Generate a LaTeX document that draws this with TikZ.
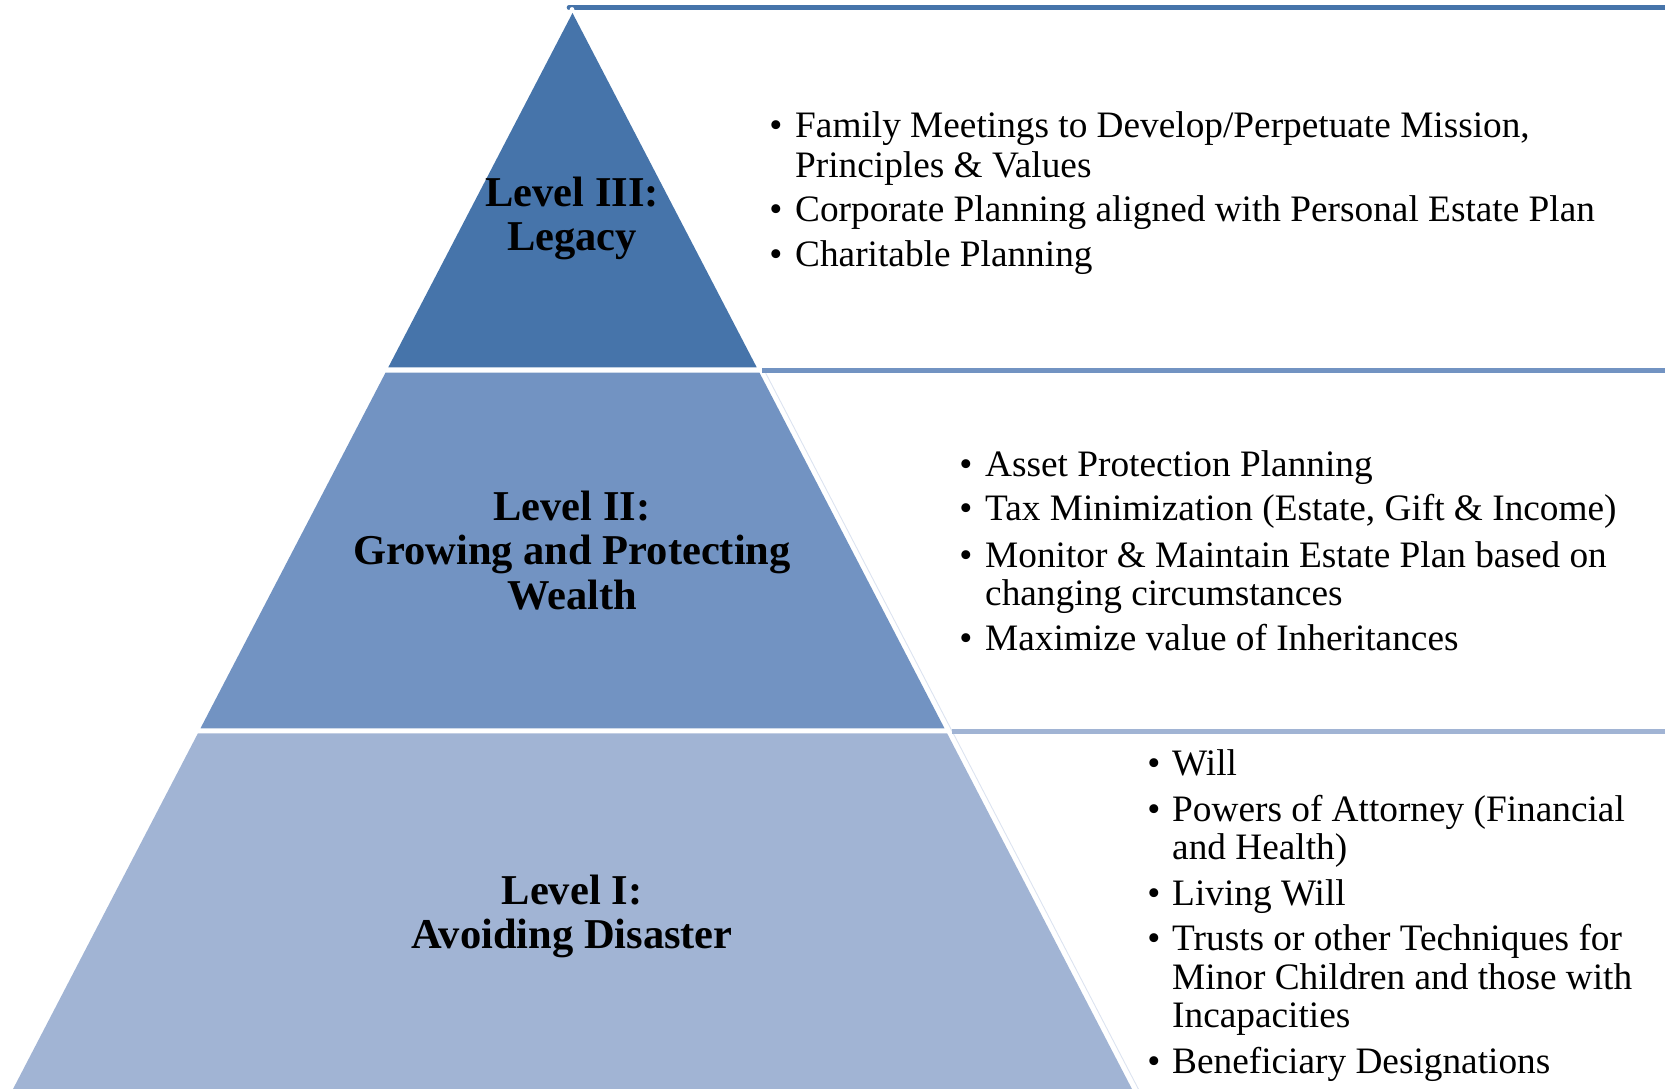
\documentclass[tikz,border=0pt]{standalone}
\usepackage{fontspec}
\setmainfont{Liberation Serif}
\definecolor{lthree}{RGB}{70,116,170}
\definecolor{ltwo}{RGB}{114,147,194}
\definecolor{lone}{RGB}{161,180,212}
\definecolor{edgefaint}{RGB}{220,227,240}
\begin{document}
\begin{tikzpicture}[x=1pt,y=-1pt,
  ttl/.style={font=\fontsize{42.5}{44}\selectfont\bfseries, anchor=base, inner sep=0pt},
  itm/.style={font=\fontsize{37.3}{38.5}\selectfont, anchor=base west, inner sep=0pt},
  bul/.style={font=\fontsize{37.3}{38.5}\selectfont, anchor=base, inner sep=0pt},
  band/.style={line width=5pt},
]
\useasboundingbox (0,0) rectangle (1665,1089);
% pyramid levels
\fill[lthree] (572.5,13) -- (756.7,367.3) -- (388.3,367.3) -- cycle;
\fill[ltwo] (385.5,372.7) -- (759.5,372.7) -- (944.5,728.3) -- (200.5,728.3) -- cycle;
\fill[lone] (197.9,733.3) -- (947.1,733.3) -- (1135.1,1095) -- (9.9,1095) -- cycle;
% faint edge line
\draw[edgefaint, line width=0.9pt] (765.5,372.7) -- (1141.5,1095);
% horizontal bands
\coordinate (t3a) at (569,7.5);
\coordinate (t3b) at (1670,7.5);
\coordinate (t2a) at (762,370.5);
\coordinate (t2b) at (1670,370.5);
\coordinate (t1a) at (952,731.5);
\coordinate (t1b) at (1670,731.5);
\draw[band, lthree, line cap=round, line width=4.6pt] (t3a) -- (t3b);
\fill[white] (572,9.5) circle (2.4);
\draw[band, ltwo] (t2a) -- (t2b);
\draw[band, lone] (t1a) -- (t1b);
% titles
\node[ttl] (l3a) at (572,206.7) {Level III:};
\node[ttl] (l3b) at (572,250.5) {Legacy};
\node[ttl] (l2a) at (572,520) {Level II:};
\node[ttl] (l2b) at (572,564.5) {Growing and Protecting};
\node[ttl] (l2c) at (572,609) {Wealth};
\node[ttl] (l1a) at (572,904) {Level I:};
\node[ttl] (l1b) at (572,948) {Avoiding Disaster};
% level III items
\node[bul] (b31) at (776,137.8) {•};
\node[itm] (i31a) at (795,137.8) {Family Meetings to Develop/Perpetuate Mission,};
\node[itm] (i31b) at (795,177) {Principles \& Values};
\node[bul] (b32) at (776,221.8) {•};
\node[itm] (i32) at (795,221.8) {Corporate Planning aligned with Personal Estate Plan};
\node[bul] (b33) at (776,266.6) {•};
\node[itm] (i33) at (795,266.6) {Charitable Planning};
% level II items
\node[bul] (b21) at (966,476) {•};
\node[itm] (i21) at (985,476) {Asset Protection Planning};
\node[bul] (b22) at (966,520.8) {•};
\node[itm] (i22) at (985,520.8) {Tax Minimization (Estate, Gift \& Income)};
\node[bul] (b23) at (966,567.5) {•};
\node[itm] (i23a) at (985,567.5) {Monitor \& Maintain Estate Plan based on};
\node[itm] (i23b) at (985,605.7) {changing circumstances};
\node[bul] (b24) at (966,650.2) {•};
\node[itm] (i24) at (985,650.2) {Maximize value of Inheritances};
% level I items
\node[bul] (b11) at (1154,775.5) {•};
\node[itm] (i11) at (1172,775.5) {Will};
\node[bul] (b12) at (1154,821.2) {•};
\node[itm] (i12a) at (1172,821.2) {Powers of Attorney (Financial};
\node[itm] (i12b) at (1172,859.4) {and Health)};
\node[bul] (b13) at (1154,905.1) {•};
\node[itm] (i13) at (1172,905.1) {Living Will};
\node[bul] (b14) at (1154,950.8) {•};
\node[itm] (i14a) at (1172,950.8) {Trusts or other Techniques for};
\node[itm] (i14b) at (1172,989) {Minor Children and those with};
\node[itm] (i14c) at (1172,1027.2) {Incapacities};
\node[bul] (b15) at (1154,1073.9) {•};
\node[itm] (i15) at (1172,1073.9) {Beneficiary Designations};
\end{tikzpicture}
\end{document}
